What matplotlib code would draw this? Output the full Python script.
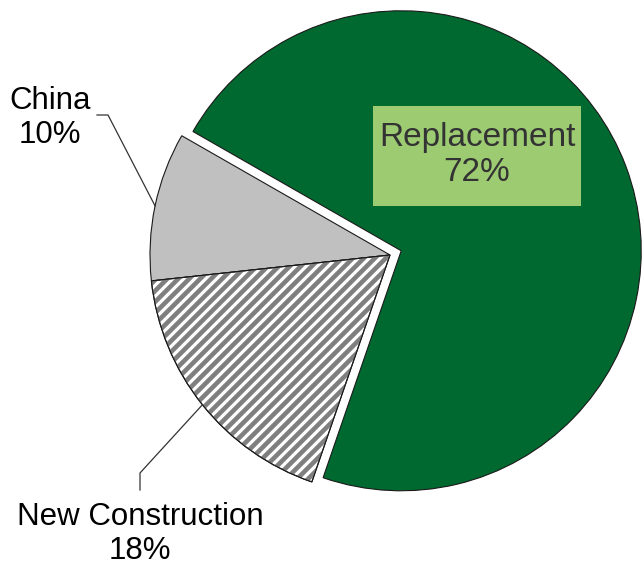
import numpy as np
import matplotlib
matplotlib.use("Agg")
import matplotlib.pyplot as plt
from matplotlib.collections import LineCollection
from matplotlib.patches import Wedge, Rectangle

labels = ["Replacement", "China", "New Construction"]
values = [72, 10, 18]
colors = ["#00692f", "#c0c0c0", "#ffffff"]

plt.rcParams['font.family'] = ['Liberation Sans', 'DejaVu Sans']

W, H = 642, 571
fig = plt.figure(figsize=(W / 100, H / 100), dpi=100)
ax = fig.add_axes([0, 0, 1, 1])

cx, cy, R = 390, H - 255, 240
start = 251
wedges, _ = ax.pie(values, colors=colors, startangle=start, radius=R,
                   center=(cx, cy), explode=[12, 0, 0],
                   wedgeprops=dict(edgecolor="#1a1a1a", linewidth=0.8))
ax.set_xlim(0, W)
ax.set_ylim(0, H)
ax.set_aspect("equal")
ax.axis("off")

# manual diagonal hatching for New Construction
nc = wedges[2]
xs = np.arange(-400, 700, 11.0)
segs = [[(x0, 0), (x0 + 600, 600)] for x0 in xs]
lc = LineCollection(segs, colors="#7f7f7f", linewidths=3.3, zorder=nc.get_zorder() + 0.1)
lc.set_clip_path(nc)
ax.add_collection(lc)
ol = Wedge(nc.center, nc.r, nc.theta1, nc.theta2, fill=False, edgecolor="#1a1a1a",
           linewidth=0.8, zorder=lc.get_zorder() + 0.1)
ax.add_patch(ol)

def wedge_mid(w):
    a = np.deg2rad((w.theta1 + w.theta2) / 2)
    return w.center[0] + w.r * np.cos(a), w.center[1] + w.r * np.sin(a)

fs = 22.5
china = wedges[1]
mx, my = wedge_mid(china)
ax.plot([97, 108, mx], [H - 115, H - 115, my], color="#333333", lw=0.9)
ax.text(50, H - 118, f"{labels[1]}\n{values[1]}%", ha="center", va="center",
        fontsize=fs, color="black", linespacing=1.2)

ncw = wedges[2]
mx, my = wedge_mid(ncw)
ax.plot([140, 140, mx], [H - 490, H - 473, my], color="#333333", lw=0.9)
ax.text(140, H - 534, f"{labels[2]}\n{values[2]}%", ha="center", va="center",
        fontsize=fs, color="black", linespacing=1.2)

t = ax.text(477, H - 155, f"{labels[0]}\n{values[0]}%", ha="center", va="center",
            fontsize=24, color="#333333", linespacing=1.15, zorder=5)
fig.canvas.draw()
bb = t.get_window_extent().transformed(ax.transData.inverted())
px, py = 6, 17
ax.add_patch(Rectangle((bb.x0 - px, bb.y0 - py - 1), bb.width + 2 * px, bb.height + 2 * py,
                       facecolor="#9dcb72", edgecolor="none", zorder=4))

fig.savefig("out.png", dpi=100)
